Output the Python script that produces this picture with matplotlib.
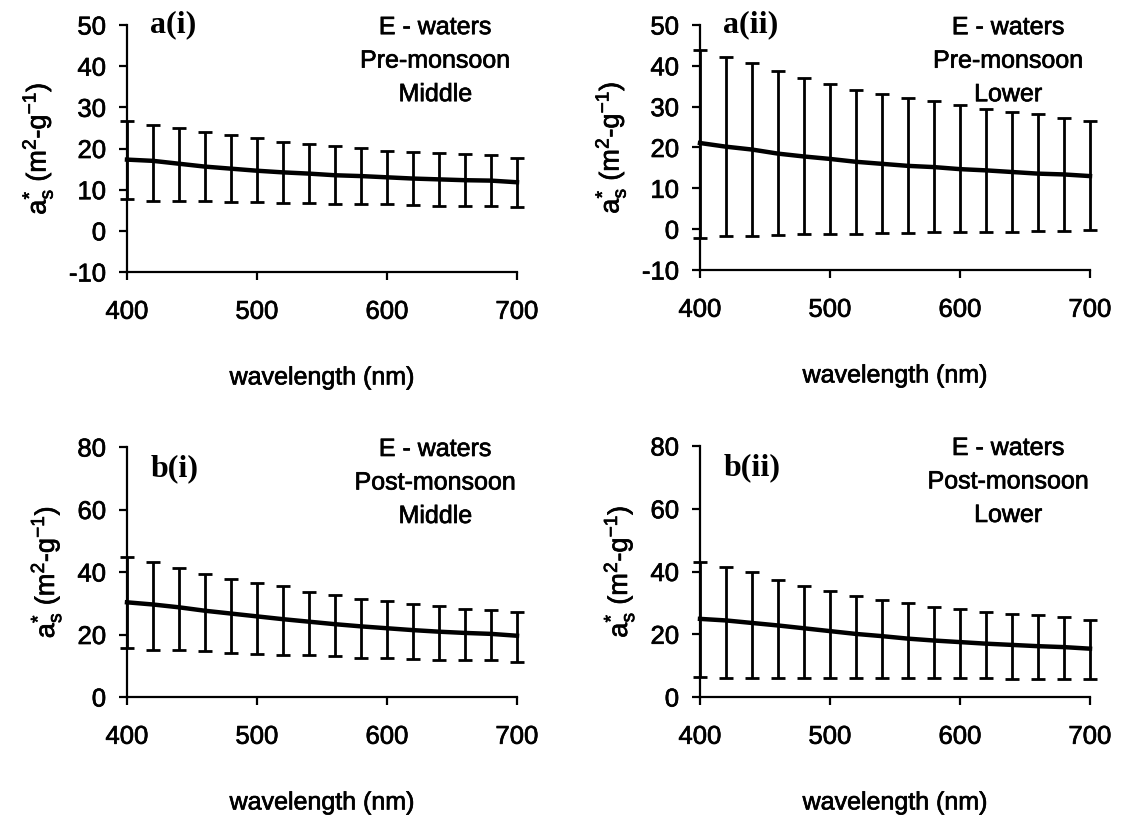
import matplotlib
matplotlib.use("Agg")
import numpy as np
import matplotlib.pyplot as plt
import matplotlib.patheffects as pe

plt.rcParams["font.family"] = ["Liberation Sans", "DejaVu Sans"]
plt.rcParams["mathtext.default"] = "regular"
plt.rcParams["axes.unicode_minus"] = False

# longitudes de onda (nm)
wl = [400, 420, 440, 460, 480, 500, 520, 540, 560, 580, 600, 620, 640, 660, 680, 700]

# a(i) pre-monsoon, middle
ai_mean = [17.3, 17.0, 16.3, 15.6, 15.1, 14.6, 14.2, 13.9, 13.5, 13.3, 13.0, 12.7, 12.5, 12.3, 12.2, 11.8]
ai_up = [26.6, 25.7, 25.1, 24.0, 23.2, 22.6, 21.5, 21.1, 20.6, 20.1, 19.5, 19.1, 18.9, 18.6, 18.3, 17.7]
ai_lo = [7.8, 7.3, 7.3, 7.2, 7.0, 7.0, 6.8, 6.8, 6.6, 6.6, 6.4, 6.3, 6.1, 6.0, 6.0, 5.9]

# a(ii) pre-monsoon, lower
aii_mean = [21.1, 20.2, 19.5, 18.5, 17.8, 17.2, 16.5, 16.0, 15.5, 15.2, 14.7, 14.4, 14.0, 13.6, 13.4, 13.0]
aii_up = [43.9, 42.1, 40.8, 38.7, 37.1, 35.6, 34.2, 33.2, 32.2, 31.3, 30.4, 29.4, 28.8, 28.2, 27.3, 26.5]
aii_lo = [-2.1, -1.7, -1.7, -1.5, -1.3, -1.1, -1.1, -1.0, -1.0, -0.8, -0.7, -0.7, -0.6, -0.4, -0.4, -0.3]

# b(i) post-monsoon, middle
bi_mean = [30.3, 29.6, 28.7, 27.6, 26.7, 25.8, 24.9, 24.1, 23.3, 22.6, 22.0, 21.4, 20.9, 20.5, 20.2, 19.6]
bi_up = [44.9, 43.3, 41.4, 39.3, 37.8, 36.4, 35.4, 33.6, 32.7, 31.4, 30.6, 29.8, 29.0, 28.2, 28.0, 27.2]
bi_lo = [15.6, 15.2, 15.0, 14.6, 14.1, 13.9, 13.6, 13.4, 13.1, 12.5, 12.5, 12.3, 12.0, 12.0, 11.8, 11.2]

# b(ii) post-monsoon, lower
bii_mean = [24.9, 24.4, 23.6, 22.8, 21.9, 21.0, 20.1, 19.4, 18.6, 18.0, 17.5, 17.0, 16.6, 16.2, 15.9, 15.4]
bii_up = [43.1, 41.3, 39.7, 37.4, 35.5, 33.9, 32.1, 31.0, 29.9, 28.8, 27.9, 27.2, 26.5, 26.0, 25.4, 24.6]
bii_lo = [6.4, 6.2, 6.2, 6.2, 6.1, 6.1, 6.1, 6.0, 5.9, 5.9, 5.9, 5.9, 5.8, 5.8, 5.8, 5.8]

panels = [
    ("a(i)", "E - waters\nPre-monsoon\nMiddle", ai_mean, ai_up, ai_lo, (-10, 50), [-10, 0, 10, 20, 30, 40, 50]),
    ("a(ii)", "E - waters\nPre-monsoon\nLower", aii_mean, aii_up, aii_lo, (-10, 50), [-10, 0, 10, 20, 30, 40, 50]),
    ("b(i)", "E - waters\nPost-monsoon\nMiddle", bi_mean, bi_up, bi_lo, (0, 80), [0, 20, 40, 60, 80]),
    ("b(ii)", "E - waters\nPost-monsoon\nLower", bii_mean, bii_up, bii_lo, (0, 80), [0, 20, 40, 60, 80]),
]

# trazo fino para que el texto se vea algo mas grueso, como en el escaneo
grueso = [pe.withStroke(linewidth=0.5, foreground="black")]

fig = plt.figure(figsize=(11.36, 8.24), dpi=100)
W = 1136.0
H = 824.0
# cajas de ejes en pixeles (x0, y0, x1, y1)
boxes = [
    (127, 25, 517, 272),
    (700, 25, 1090, 270),
    (127, 447, 517, 697),
    (700, 446, 1090, 697),
]

for (tag, info, mean, up, lo, ylim, yt), (x0, y0, x1, y1) in zip(panels, boxes):
    ax = fig.add_axes([x0 / W, 1 - y1 / H, (x1 - x0) / W, (y1 - y0) / H])
    mean = np.array(mean)
    err = [mean - np.array(lo), np.array(up) - mean]
    ax.errorbar(wl, mean, yerr=err, color="black", lw=3.2, elinewidth=2.0,
                capsize=5, capthick=2.0, clip_on=False, zorder=3)
    ax.set_xlim(400, 700)
    ax.set_ylim(*ylim)
    ax.set_xticks([400, 500, 600, 700])
    ax.set_yticks(yt)
    for s in ["top", "right"]:
        ax.spines[s].set_visible(False)
    for s in ["left", "bottom"]:
        ax.spines[s].set_linewidth(1.6)
    ax.tick_params(axis="both", direction="out", length=6, width=1.6, labelsize=18.5)
    ax.tick_params(axis="x", pad=14)
    ax.tick_params(axis="y", pad=9)
    for lab in ax.get_xticklabels() + ax.get_yticklabels():
        lab.set_path_effects(grueso)
    ax.set_xlabel("wavelength (nm)", fontsize=18, labelpad=30, path_effects=grueso)
    ax.set_ylabel(r"a$^{*}_{s}$ (m$^{2}$-g$^{-1}$)", fontsize=19.5, labelpad=10, path_effects=grueso)
    ax.text(0.06, 1.0 if tag.startswith("a") else 0.915, tag, transform=ax.transAxes,
            fontsize=23, fontweight="bold", family="Liberation Serif", va="center", ha="left")
    ax.text(0.79, 1.04, info, transform=ax.transAxes, fontsize=18, ha="center", va="top",
            linespacing=1.5, path_effects=grueso)

fig.savefig("out.png", dpi=100)
